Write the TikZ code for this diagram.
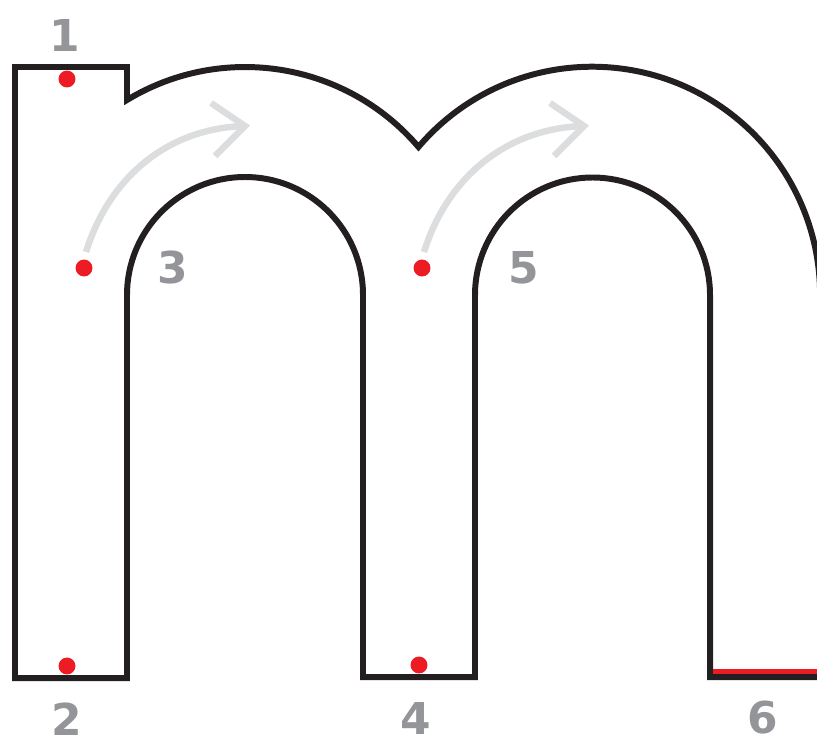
\documentclass[tikz,border=0pt]{standalone}
\usepackage{fontspec}
\newfontfamily\numfont{DejaVu Sans}
\definecolor{outl}{HTML}{231F20}
\definecolor{dotred}{HTML}{ED1C24}
\definecolor{numgray}{HTML}{939598}
\definecolor{arrgray}{HTML}{DCDDDE}
\begin{document}
\begin{tikzpicture}[x=0.02cm,y=-0.02cm,
  outline/.style={draw=outl,line width=6*0.567pt,miter limit=10},
  guide/.style={draw=arrgray,line width=6.5*0.567pt},
  reddot/.style={circle,fill=dotred,inner sep=0pt,minimum size=17*0.567pt},
  numlabel/.style={text=numgray,font=\numfont\bfseries\fontsize{25}{30}\selectfont,inner sep=0pt}]
\useasboundingbox (0,0) rectangle (817,740);
\begin{scope}
\clip (0,0) rectangle (817,740);
% letter outline
\draw[outline] (15,678) -- (15,67) -- (127,67) -- (127,100)
  arc[start angle=-121.2,end angle=-40.5,radius=228]
  arc[start angle=-139.6,end angle=0,radius=228]
  -- (820.5,677) -- (710,677) -- (710,295)
  arc[start angle=0,end angle=-180,radius=117.5]
  -- (475,677) -- (363,677) -- (363,295)
  arc[start angle=0,end angle=-180,radius=118]
  -- (127,678) -- cycle;
% red finishing stroke
\draw[dotred,line width=4.5*0.567pt] (713,671.5) -- (820,671.5);
\end{scope}
% guide arrows
\coordinate (s1) at (86,252);
\coordinate (t1) at (245,126);
\draw[guide] (s1) .. controls (110,175) and (170,128) .. (t1);
\draw[guide,line join=miter] (211,103) -- (t1) -- (215,156);
\coordinate (s2) at (424,252);
\coordinate (t2) at (584,126);
\draw[guide] (s2) .. controls (448,175) and (509,128) .. (t2);
\draw[guide,line join=miter] (550,103) -- (t2) -- (554,156);
% red dots
\node[reddot] (d1) at (67,79) {};
\node[reddot] (d2) at (67,666) {};
\node[reddot] (d3) at (84,268) {};
\node[reddot] (d4) at (419,665) {};
\node[reddot] (d5) at (422,268) {};
% numbers
\node[numlabel] (n1) at (65,35) {1};
\node[numlabel] (n2) at (67,719) {2};
\node[numlabel] (n3) at (173,268) {3};
\node[numlabel] (n4) at (416,718) {4};
\node[numlabel] (n5) at (524,268) {5};
\node[numlabel] (n6) at (763,718) {6};
\end{tikzpicture}
\end{document}
